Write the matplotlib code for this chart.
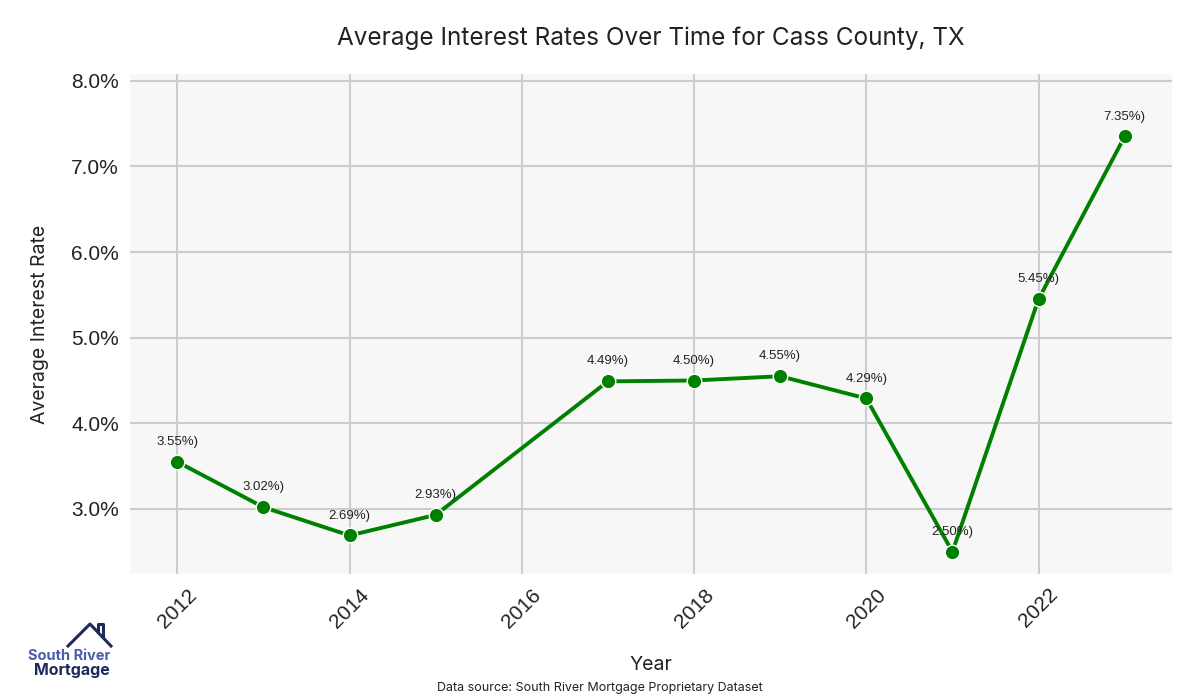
import matplotlib.pyplot as plt
from matplotlib.ticker import FuncFormatter

years = [2012, 2013, 2014, 2015, 2017, 2018, 2019, 2020, 2021, 2022, 2023]
rates = [3.55, 3.02, 2.69, 2.93, 4.49, 4.50, 4.55, 4.29, 2.50, 5.45, 7.35]
x_ticks = [2012, 2014, 2016, 2018, 2020, 2022]
y_ticks = [3.0, 4.0, 5.0, 6.0, 7.0, 8.0]

TITLE = "Average Interest Rates Over Time for Cass County, TX"
SOURCE = "Data source: South River Mortgage Proprietary Dataset"

fig = plt.figure(figsize=(12, 7), dpi=100)
ax = fig.add_axes([0.1083, 0.18, 0.8684, 0.7143])
ax.set_facecolor("#f7f7f7")
for s in ax.spines.values():
    s.set_visible(False)

ax.grid(True, color="#cccccc", linewidth=1.5)
ax.set_axisbelow(True)

ax.plot(years, rates, color="green", linewidth=2.8, marker="o", markersize=10.5,
        markerfacecolor="green", markeredgecolor="white", markeredgewidth=1, zorder=3)

# labels above each point
for x, y in zip(years, rates):
    ax.annotate(f"{y:.2f}%)", (x, y), xytext=(0, 10), textcoords="offset points",
                ha="center", va="bottom", fontsize=9.5, color="#222222",
                family="Liberation Sans")

ax.set_xlim(2011.45, 2023.55)
ax.set_ylim(2.24, 8.08)
ax.set_xticks(x_ticks)
ax.set_yticks(y_ticks)
ax.yaxis.set_major_formatter(FuncFormatter(lambda v, p: f"{v:.1f}%"))
ax.tick_params(length=0, pad=8, labelcolor="#222222")
for lab in ax.get_yticklabels():
    lab.set_fontsize(15)
    lab.set_family("Liberation Sans")
for lab in ax.get_xticklabels():
    lab.set_fontsize(15)
    lab.set_family("Liberation Sans")
    lab.set_rotation(45)

ax.set_xlabel("Year", fontsize=14, family="Inter", color="#222222", labelpad=18)
ax.set_ylabel("Average Interest Rate", fontsize=14, family="Inter", color="#222222", labelpad=16)

fig.text(0.5425, 0.945, TITLE, ha="center", va="center", fontsize=17.5, family="Inter", color="#222222")
fig.text(0.5, 0.017, SOURCE, ha="center", va="center", fontsize=9, family="Inter", color="#222222")

# logo
fig.text(110 / 1200, 1 - 656 / 700, "South River", ha="right", va="center", fontsize=10.5,
         family="Inter", fontweight="bold", color="#4a5cab")
fig.text(110 / 1200, 1 - 671 / 700, "Mortgage", ha="right", va="center", fontsize=11.5,
         family="Inter", fontweight="bold", color="#1f2a5c")
fig.add_artist(plt.Line2D([68 / 1200, 90 / 1200, 111 / 1200], [1 - 646 / 700, 1 - 624 / 700, 1 - 646 / 700],
                          color="#1f2a5c", linewidth=2.2, transform=fig.transFigure))
fig.add_artist(plt.Line2D([97.5 / 1200, 97.5 / 1200, 102.5 / 1200, 102.5 / 1200],
                          [1 - 632 / 700, 1 - 624 / 700, 1 - 624 / 700, 1 - 637 / 700],
                          color="#1f2a5c", linewidth=2.2, transform=fig.transFigure))

fig.savefig("out.png", dpi=100)
